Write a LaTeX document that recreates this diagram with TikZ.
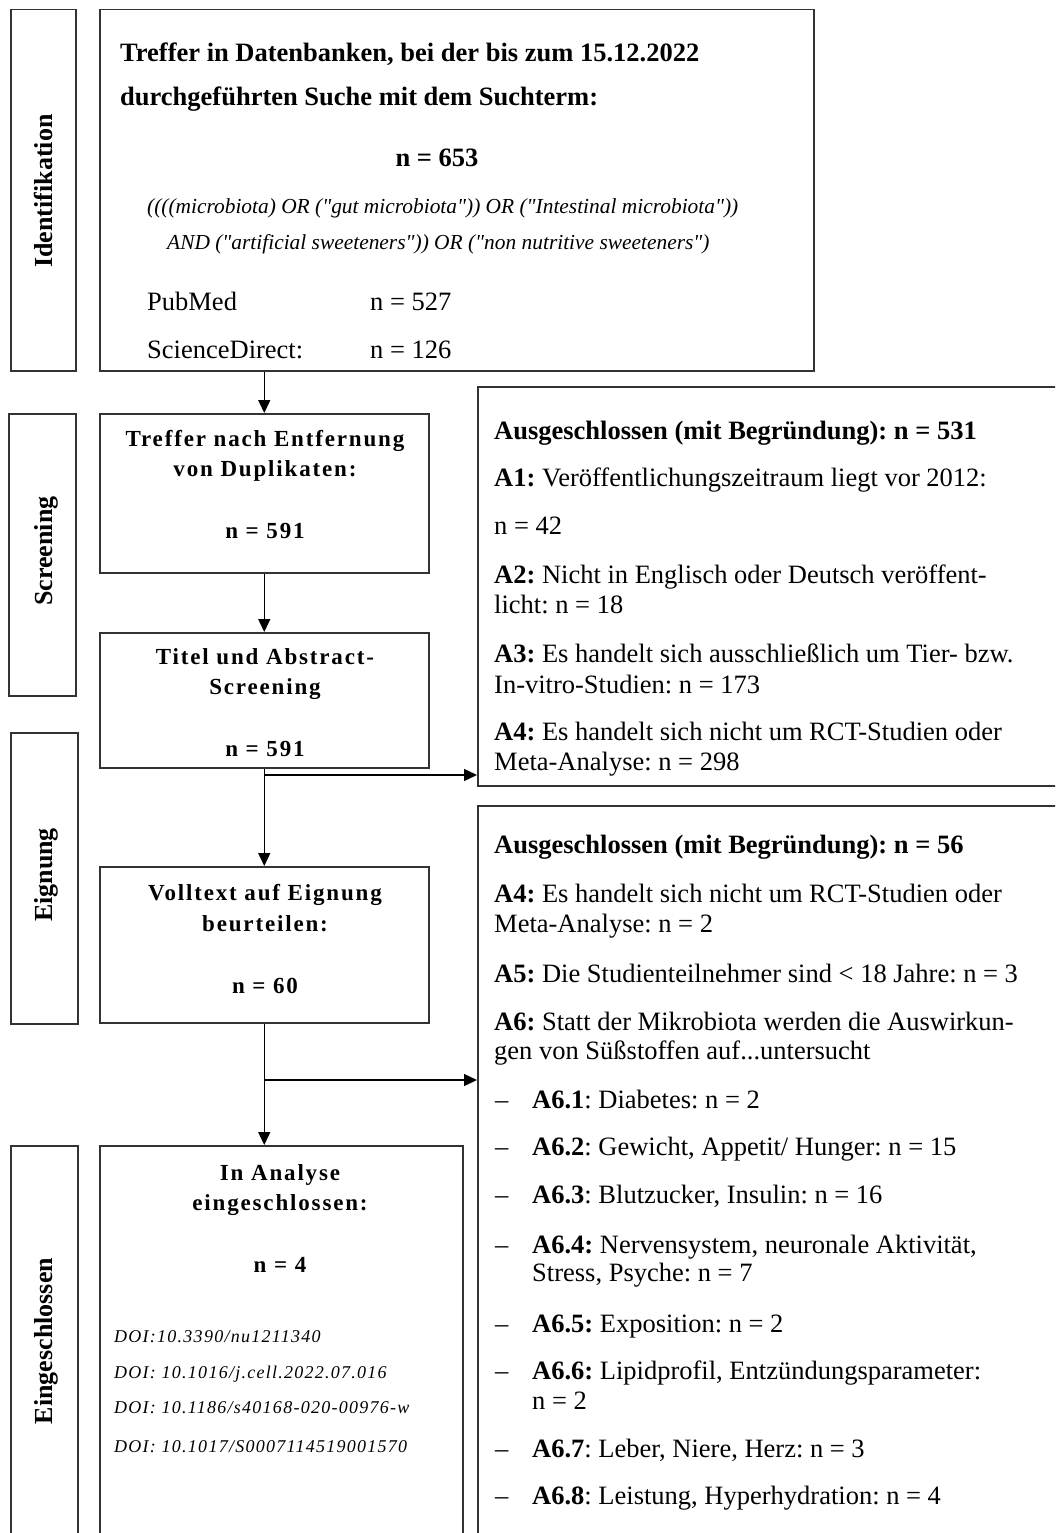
\documentclass[tikz,border=0pt]{standalone}
\usepackage{fontspec}
\setmainfont{Liberation Serif}
\newfontfamily\flowfont[LetterSpace=8]{Liberation Serif}
\newfontfamily\doifont[LetterSpace=7]{Liberation Serif}
\newfontfamily\queryfont[Ligatures=TeXOff]{Liberation Serif}
\usetikzlibrary{arrows.meta}
\newcommand\qmark{\char34\relax}
\frenchspacing
\begin{document}
\begin{tikzpicture}[x=1pt,y=-1pt,
  frame/.style={draw=black!80, line width=1.5pt, inner sep=0pt, anchor=north west},
  body/.style={inner sep=0pt, anchor=base west, font=\fontsize{26.5}{30}\selectfont\frenchspacing},
  bodyc/.style={inner sep=0pt, anchor=base, font=\fontsize{26.5}{30}\selectfont\frenchspacing},
  query/.style={inner sep=0pt, anchor=base west, font=\fontsize{21.4}{26}\selectfont\queryfont\itshape},
  flow/.style={inner sep=0pt, anchor=base, font=\fontsize{23}{26}\selectfont\flowfont\bfseries},
  doi/.style={inner sep=0pt, anchor=base west, font=\fontsize{18}{22}\selectfont\doifont\itshape},
  phase/.style={inner sep=0pt, anchor=base, rotate=90, font=\fontsize{26}{30}\selectfont\bfseries},
  dashmark/.style={inner sep=0pt, anchor=base west, font=\fontsize{26.5}{30}\selectfont},
  conn/.style={draw=black, line width=1.4pt},
  arr/.style={conn, -{Triangle[length=13pt,width=12pt]}}
]
\clip (0,0) rectangle (1055,1533);
\fill[white] (0,0) rectangle (1055,1533);

% phase labels
\node[frame, minimum width=65pt, minimum height=361pt] (lid) at (10,9) {};
\node[frame, minimum width=67pt, minimum height=282pt] (lsc) at (8,413) {};
\node[frame, minimum width=67pt, minimum height=291pt] (lel) at (10,732) {};
\node[frame, minimum width=67pt, minimum height=420pt] (lin) at (10,1145) {};
\node[phase] (pid) at (52,191) {Identifikation};
\node[phase] (psc) at (52,551) {Screening};
\node[phase] (pel) at (52,875) {Eignung};
\node[phase] (pin) at (52,1341) {Eingeschlossen};

% main boxes
\node[frame, minimum width=714pt, minimum height=361pt] (top) at (99,9) {};
\node[frame, minimum width=329pt, minimum height=159pt] (dup) at (99,413) {};
\node[frame, minimum width=329pt, minimum height=135pt] (tas) at (99,632) {};
\node[frame, minimum width=329pt, minimum height=156pt] (ft) at (99,866) {};
\node[frame, minimum width=363pt, minimum height=420pt] (inc) at (99,1145) {};
\node[frame, minimum width=600pt, minimum height=399pt] (ex1) at (477,386) {};
\node[frame, minimum width=600pt, minimum height=760pt] (ex2) at (477,805) {};

% connectors
\draw[arr] (dup.north |- top.south) -- (dup.north);
\draw[arr] (dup.south) -- (tas.north);
\draw[arr] (tas.south) -- (ft.north);
\coordinate (j1) at (263.5,775);
\draw[arr] (j1) -- (j1 -| ex1.west);
\draw[arr] (ft.south) -- (ft.south |- inc.north);
\coordinate (j2) at (263.5,1080);
\draw[arr] (j2) -- (j2 -| ex2.west);

% top box text
\node[body] (t1) at (120,62) {\textbf{Treffer in Datenbanken, bei der bis zum 15.12.2022}};
\node[body] (t2) at (120,106) {\textbf{durchgeführten Suche mit dem Suchterm:}};
\node[bodyc] (t3) at (437,167) {\textbf{n = 653}};
\node[query] (t4) at (147,213) {((((microbiota) OR (\qmark gut microbiota\qmark)) OR (\qmark Intestinal microbiota\qmark))};
\node[query] (t5) at (167,249) {AND (\qmark artificial sweeteners\qmark)) OR (\qmark non nutritive sweeteners\qmark)};
\node[body] (t6) at (147,310) {PubMed};
\node[body] (t7) at (370,310) {n = 527};
\node[body] (t8) at (147,358) {ScienceDirect:};
\node[body] (t9) at (370,358) {n = 126};

% flow boxes text
\node[flow] (d1) at (265,446) {Treffer nach Entfernung};
\node[flow] (d2) at (265,476) {von Duplikaten:};
\node[flow] (d3) at (265,538) {n = 591};
\node[flow] (s1) at (265,664) {Titel und Abstract-};
\node[flow] (s2) at (265,694) {Screening};
\node[flow] (s3) at (265,756) {n = 591};
\node[flow] (v1) at (265,900) {Volltext auf Eignung};
\node[flow] (v2) at (265,931) {beurteilen:};
\node[flow] (v3) at (265,993) {n = 60};
\node[flow] (i1) at (280,1180) {In Analyse};
\node[flow] (i2) at (280,1210) {eingeschlossen:};
\node[flow] (i3) at (280,1272) {n = 4};
\node[doi] (o1) at (114,1342) {DOI:10.3390/nu1211340};
\node[doi] (o2) at (114,1378) {DOI: 10.1016/j.cell.2022.07.016};
\node[doi] (o3) at (114,1413) {DOI: 10.1186/s40168-020-00976-w};
\node[doi] (o4) at (114,1452) {DOI: 10.1017/S0007114519001570};

% exclusion box 1
\node[body] (a0) at (494,439) {\textbf{Ausgeschlossen (mit Begründung): n = 531}};
\node[body] (a1) at (494,486) {\textbf{A1:} Veröffentlichungszeitraum liegt vor 2012:};
\node[body] (a1b) at (494,534) {n = 42};
\node[body] (a2) at (494,583) {\textbf{A2:} Nicht in Englisch oder Deutsch veröffent-};
\node[body] (a2b) at (494,613) {licht: n = 18};
\node[body] (a3) at (494,662) {\textbf{A3:} Es handelt sich ausschließlich um Tier- bzw.};
\node[body] (a3b) at (494,693) {In-vitro-Studien: n = 173};
\node[body] (a4) at (494,740) {\textbf{A4:} Es handelt sich nicht um RCT-Studien oder};
\node[body] (a4b) at (494,770) {Meta-Analyse: n = 298};

% exclusion box 2
\node[body] (b0) at (494,853) {\textbf{Ausgeschlossen (mit Begründung): n = 56}};
\node[body] (b4) at (494,902) {\textbf{A4:} Es handelt sich nicht um RCT-Studien oder};
\node[body] (b4b) at (494,932) {Meta-Analyse: n = 2};
\node[body] (b5) at (494,982) {\textbf{A5:} Die Studienteilnehmer sind < 18 Jahre: n = 3};
\node[body] (b6) at (494,1030) {\textbf{A6:} Statt der Mikrobiota werden die Auswirkun-};
\node[body] (b6b) at (494,1059) {gen von Süßstoffen auf...untersucht};
\foreach \yy/\nm in {1108/m1,1155/m2,1203/m3,1253/m4,1332/m5,1379/m6,1457/m7,1504/m8}
  \node[dashmark] (\nm) at (495,\yy) {–};
\node[body] (c1) at (532,1108) {\textbf{A6.1}: Diabetes: n = 2};
\node[body] (c2) at (532,1155) {\textbf{A6.2}: Gewicht, Appetit/ Hunger: n = 15};
\node[body] (c3) at (532,1203) {\textbf{A6.3}: Blutzucker, Insulin: n = 16};
\node[body] (c4) at (532,1253) {\textbf{A6.4:} Nervensystem, neuronale Aktivität,};
\node[body] (c4b) at (532,1281) {Stress, Psyche: n = 7};
\node[body] (c5) at (532,1332) {\textbf{A6.5:} Exposition: n = 2};
\node[body] (c6) at (532,1379) {\textbf{A6.6:} Lipidprofil, Entzündungsparameter:};
\node[body] (c6b) at (532,1409) {n = 2};
\node[body] (c7) at (532,1457) {\textbf{A6.7}: Leber, Niere, Herz: n = 3};
\node[body] (c8) at (532,1504) {\textbf{A6.8}: Leistung, Hyperhydration: n = 4};
\end{tikzpicture}
\end{document}
